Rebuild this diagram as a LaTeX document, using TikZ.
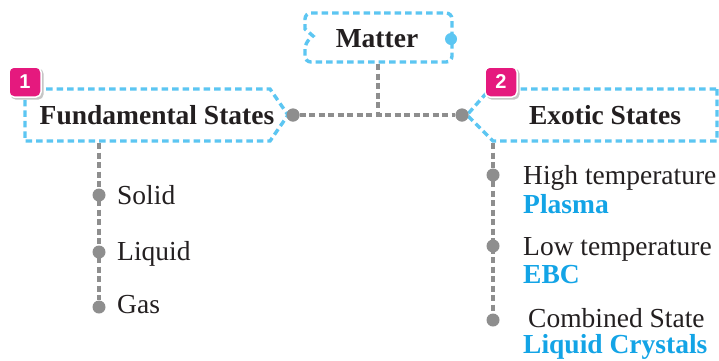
\documentclass[tikz,border=0pt]{standalone}
\usepackage{fontspec}
\setmainfont{Liberation Serif}
\newfontfamily\badgefont{Liberation Sans}
\definecolor{dashblue}{HTML}{5CC6F2}
\definecolor{txtblue}{HTML}{13A4E6}
\definecolor{linegray}{HTML}{8E8E8E}
\definecolor{badgepink}{HTML}{E5197E}
\definecolor{txtdark}{HTML}{231F20}
\begin{document}
\begin{tikzpicture}[x=1pt,y=-1pt,
 bluedash/.style={draw=dashblue, line width=3.4pt, dash pattern=on 6.5pt off 4pt},
 graydash/.style={draw=linegray, line width=3.4pt, dash pattern=on 6pt off 3.5pt},
 graydot/.style={circle, fill=linegray, inner sep=0pt, minimum size=13pt},
 headtxt/.style={font=\fontsize{27.5}{30}\selectfont\bfseries, text=txtdark, inner sep=0pt, anchor=base},
 itemtxt/.style={font=\fontsize{27.5}{30}\selectfont, text=txtdark, inner sep=0pt, anchor=base west},
 bluetxt/.style={font=\fontsize{27.5}{30}\selectfont\bfseries, text=txtblue, inner sep=0pt, anchor=base west},
 badge/.style={fill=badgepink, draw=white, line width=1.5pt, rounded corners=5pt, minimum width=32pt, minimum height=30pt, inner sep=0pt, text=white, font=\badgefont\bfseries\fontsize{20}{20}\selectfont},
 badgeshadow/.style={fill=gray!45, rounded corners=5pt, minimum width=33pt, minimum height=31pt, inner sep=0pt}
]
\useasboundingbox[fill=white] (0,0) rectangle (719,360);

% Matter box
\draw[bluedash, rounded corners=6pt] (378,13) -- (452,13) -- (452,62) -- (305,62) -- (305,43) [sharp corners] -- (313,36) -- (305,29) [rounded corners=6pt] -- (305,13) -- cycle;
\node[circle, fill=dashblue, minimum size=12pt, inner sep=0pt] (mdot) at (451,39) {};
\node[headtxt] (matter) at (377,47) {Matter};

% connectors
\coordinate (mbot) at (378,64);
\coordinate (junc) at (378,115);
\node[graydot] (fdot) at (293,115) {};
\node[graydot] (edot) at (462,115) {};
\draw[graydash] (mbot) -- (junc);
\draw[graydash] (fdot) -- (edot);

% Fundamental box
\draw[bluedash] (25,89) -- (270,89) -- (288,115) -- (270,141) -- (25,141) -- cycle;
\node[graydot] at (fdot) {};
\node[headtxt] (fund) at (157,124) {Fundamental States};
\node[badgeshadow] at (27,84) {};
\node[badge] (b1) at (25,82) {1};

% Exotic box
\draw[bluedash] (717,89) -- (717,141) -- (493,141) -- (467,115) -- (490,89) -- cycle;
\node[graydot] at (edot) {};
\node[headtxt] (exotic) at (605,124) {Exotic States};
\node[badgeshadow] at (503,84) {};
\node[badge] (b2) at (501,82) {2};

% Left list
\coordinate (ftop) at (99,143);
\node[graydot] (d1) at (99,195) {};
\node[graydot] (d2) at (99,252) {};
\node[graydot] (d3) at (99,307) {};
\draw[graydash] (ftop) -- (d3);
\node[itemtxt] (solid) at (117,204) {Solid};
\node[itemtxt] (liquid) at (117,260) {Liquid};
\node[itemtxt] (gas) at (117,313) {Gas};

% Right list
\coordinate (etop) at (493,143);
\node[graydot] (r1) at (493,175) {};
\node[graydot] (r2) at (493,246) {};
\node[graydot] (r3) at (493,320) {};
\draw[graydash] (etop) -- (r3);
\node[itemtxt] (high) at (523,184) {High temperature};
\node[bluetxt] (plasma) at (523,213) {Plasma};
\node[itemtxt] (low) at (523,255) {Low temperature};
\node[bluetxt] (ebc) at (523,283) {EBC};
\node[itemtxt] (comb) at (528,327) {Combined State};
\node[bluetxt] (lc) at (523,353) {Liquid Crystals};
\end{tikzpicture}
\end{document}
